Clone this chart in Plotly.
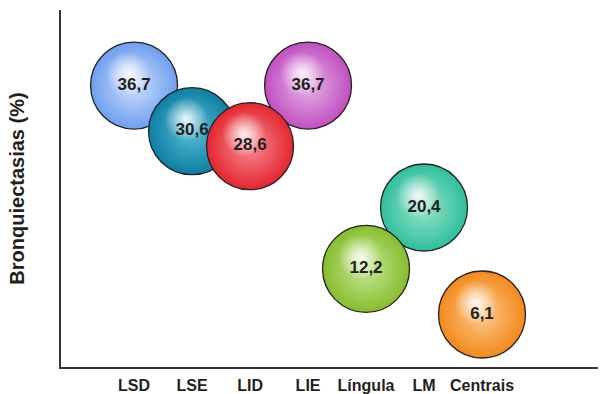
import plotly.graph_objects as go

# Bronchiectasis prevalence by lung region
categories = ["LSD", "LSE", "LID", "LIE", "Língula", "LM", "Centrais"]
values = [36.7, 30.6, 28.6, 36.7, 12.2, 20.4, 6.1]
labels = ["36,7", "30,6", "28,6", "36,7", "12,2", "20,4", "6,1"]
edge_colors = ["#6e9ef0", "#0d7fa2", "#e5252f", "#c04fc0", "#86bd2c", "#2fbf9c", "#f2891a"]
center_colors = ["#cfe0fb", "#59bcd6", "#f58c94", "#e7b3e7", "#c8e79a", "#99e3cb", "#fcc98e"]

# stacking order of the bubbles (later ones sit on top)
draw_order = [0, 1, 3, 2, 5, 4, 6]

FONT = "Liberation Sans, Arial, Helvetica, sans-serif"
PX_PER_CAT = 58.0
PX_PER_UNIT = 7.48
x_range = [-1.26, 8.0]
y_range = [-0.92, 46.8]

# highlight layer is shifted a few pixels up-left of each bubble centre
hl_dx, hl_dy = 6, 12
x_range_hl = [x_range[0] + hl_dx / PX_PER_CAT, x_range[1] + hl_dx / PX_PER_CAT]
y_range_hl = [y_range[0] - hl_dy / PX_PER_UNIT, y_range[1] - hl_dy / PX_PER_UNIT]

ox = [categories[i] for i in draw_order]
oy = [values[i] for i in draw_order]

fig = go.Figure()

fig.add_trace(go.Scatter(
    x=ox, y=oy, mode="markers",
    marker=dict(
        size=87,
        color=[edge_colors[i] for i in draw_order],
        gradient=dict(type="radial", color=[center_colors[i] for i in draw_order]),
        line=dict(color="#222222", width=1.3),
        opacity=1,
    ),
    hoverinfo="skip", showlegend=False, cliponaxis=False,
))

fig.add_trace(go.Scatter(
    x=ox, y=oy, mode="markers", xaxis="x2", yaxis="y2",
    marker=dict(
        size=44,
        color="rgba(255,255,255,0)",
        gradient=dict(type="radial", color="rgba(255,255,255,0.9)"),
        line=dict(width=0),
    ),
    hoverinfo="skip", showlegend=False, cliponaxis=False,
))

# value labels on their own overlay so they sit above the highlights
fig.add_trace(go.Scatter(
    x=categories, y=values, mode="text", text=labels, xaxis="x3", yaxis="y3",
    textposition="middle center",
    textfont=dict(family=FONT, size=17, color="#231f20", weight="bold"),
    hoverinfo="skip", showlegend=False, cliponaxis=False,
))

axis_line = dict(showline=True, linecolor="#333333", linewidth=1.5, zeroline=False,
                 showgrid=False, ticks="", automargin=False)

fig.update_layout(
    width=600, height=394,
    margin=dict(l=61, r=2, t=10, b=27),
    paper_bgcolor="white", plot_bgcolor="white",
    xaxis=dict(type="category", categoryorder="array", categoryarray=categories,
               range=x_range, tickfont=dict(family=FONT, size=16, color="#231f20", weight="bold"),
               ticklabelstandoff=3, **axis_line),
    yaxis=dict(range=y_range, showticklabels=False,
               title=dict(text="Bronquiectasias (%)", standoff=29,
                          font=dict(family=FONT, size=20, color="#231f20", weight="bold")),
               **axis_line),
    xaxis2=dict(type="category", categoryorder="array", categoryarray=categories,
                range=x_range_hl, overlaying="x", visible=False),
    yaxis2=dict(range=y_range_hl, overlaying="y", visible=False),
    xaxis3=dict(type="category", categoryorder="array", categoryarray=categories,
                range=x_range, overlaying="x", visible=False),
    yaxis3=dict(range=y_range, overlaying="y", visible=False),
)

fig.write_html("out.html")
